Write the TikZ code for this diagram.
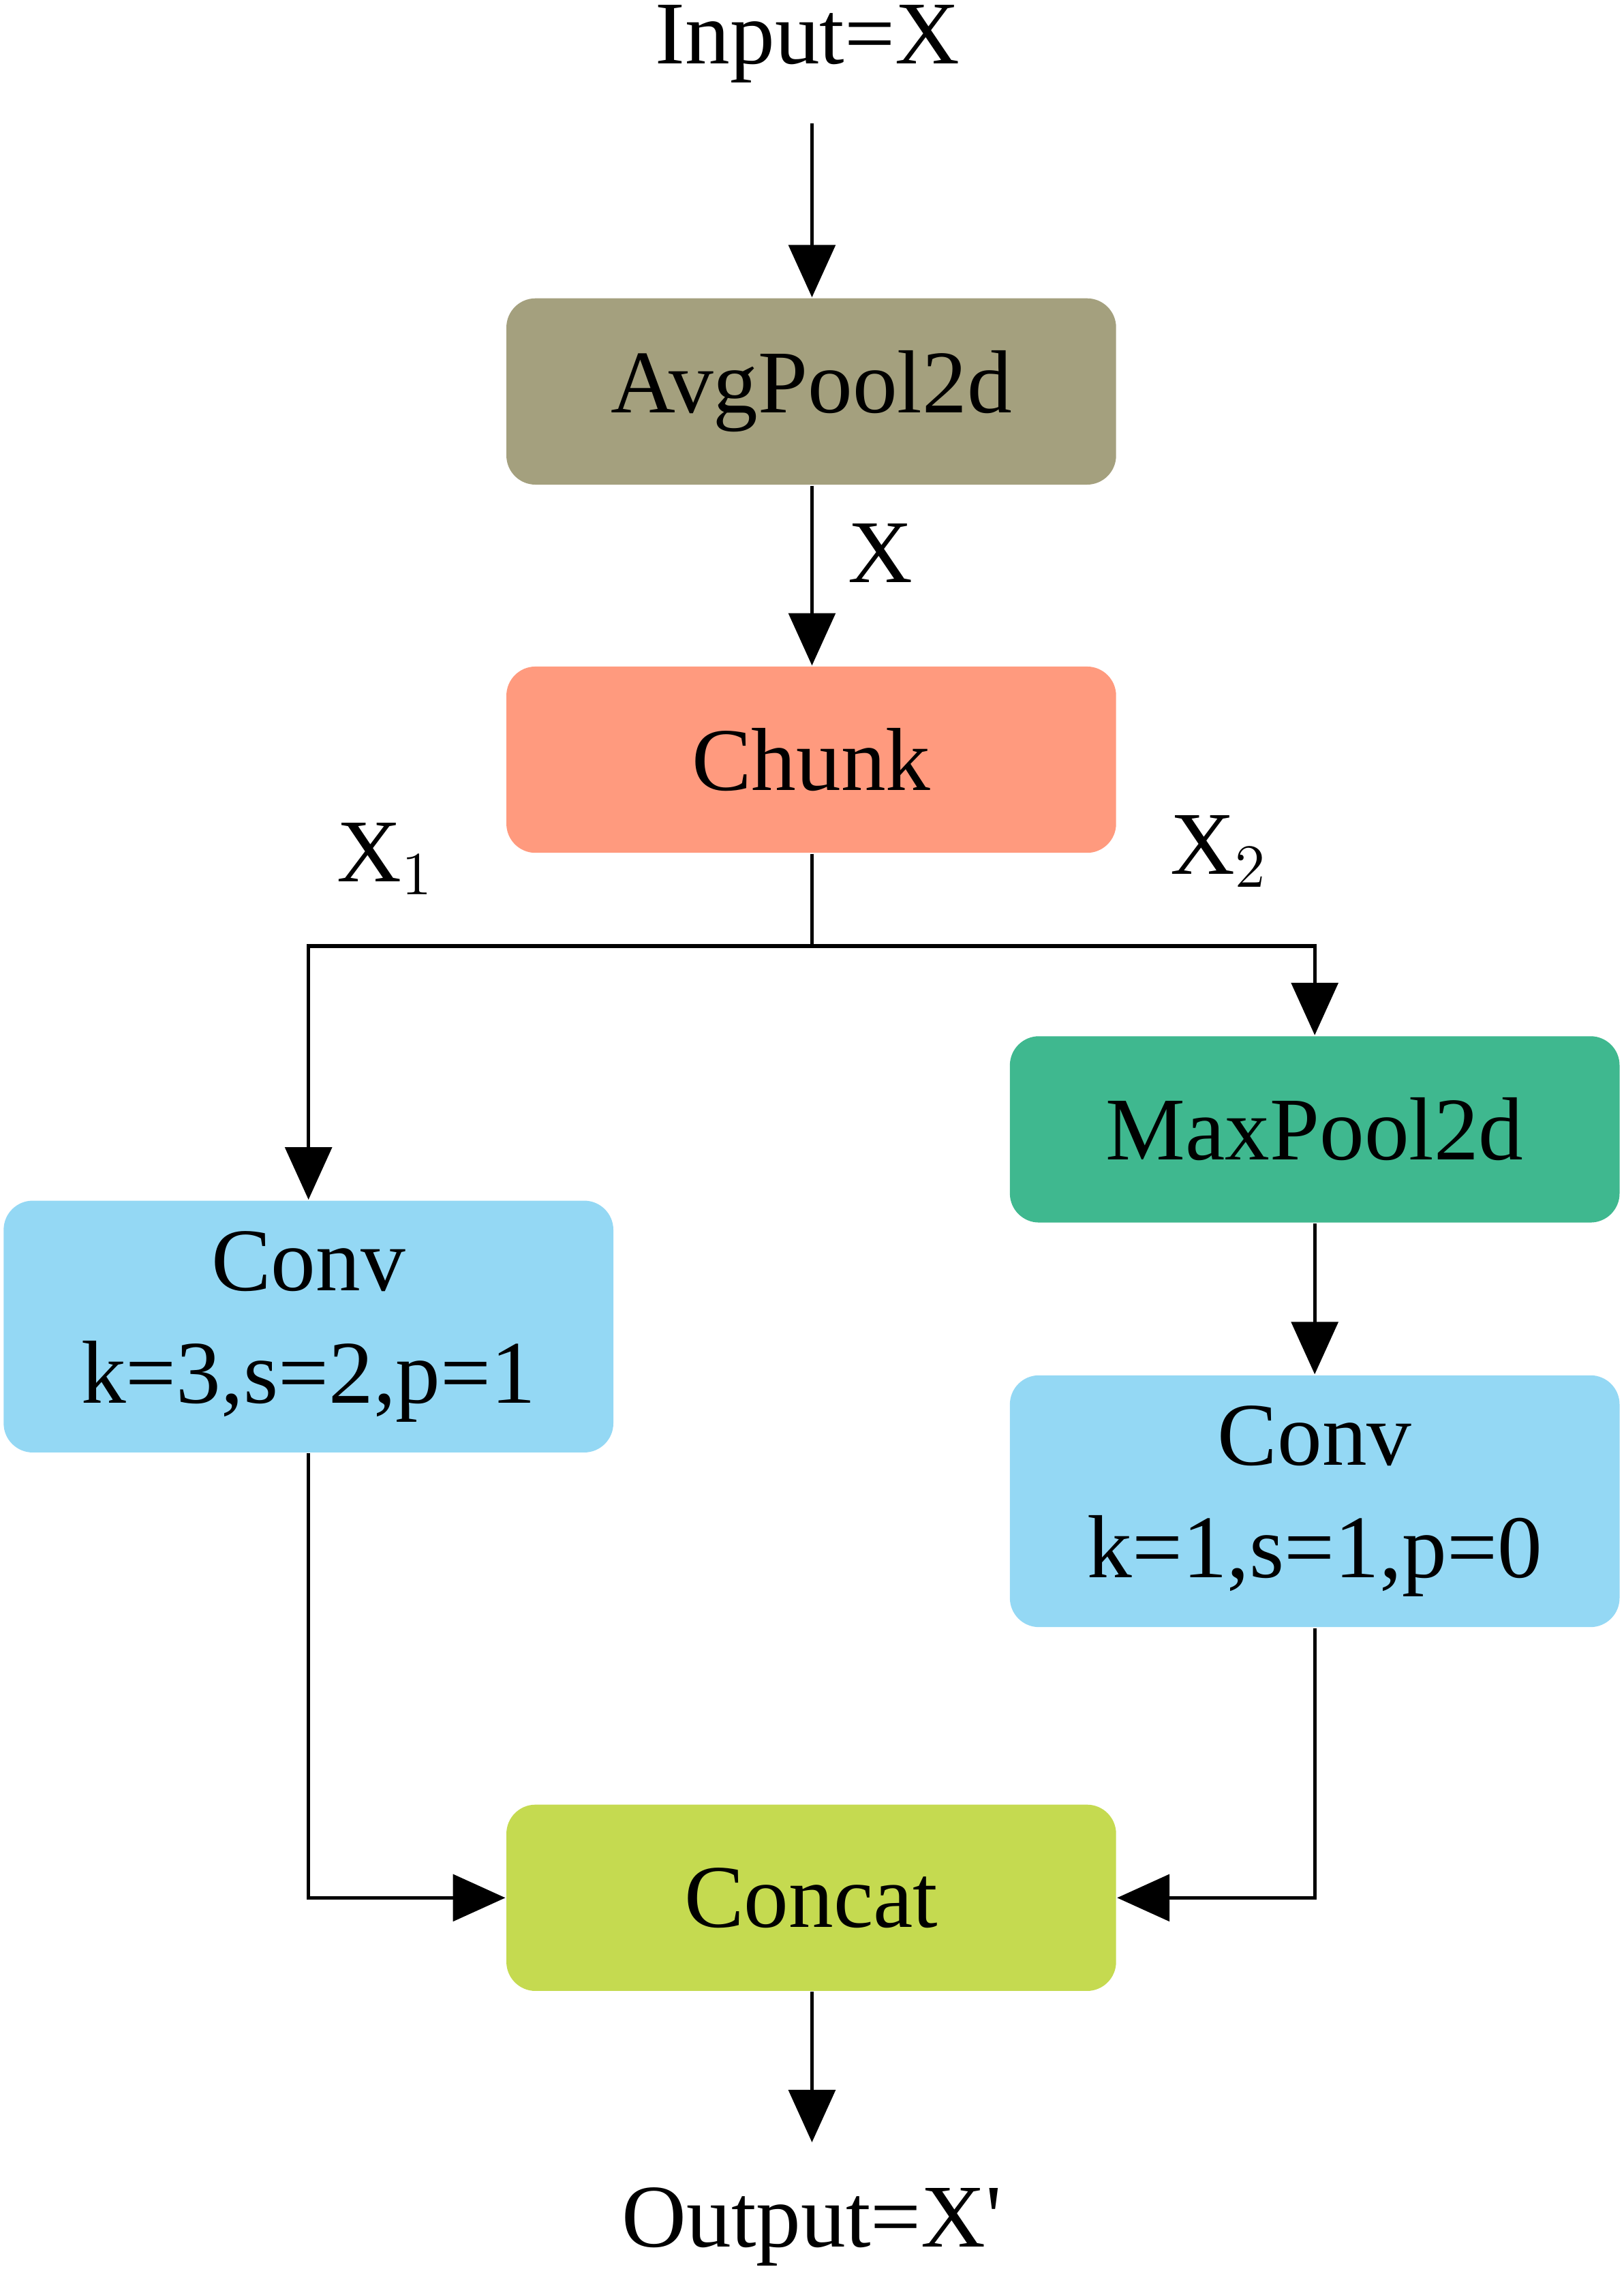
\documentclass[tikz,border=0pt]{standalone}
\usepackage{fontspec}
\setmainfont{Liberation Serif}
\usetikzlibrary{arrows.meta}
\definecolor{avg}{HTML}{A4A07E}
\definecolor{chunk}{HTML}{FF9A7E}
\definecolor{conv}{HTML}{94D8F4}
\definecolor{maxp}{HTML}{3FB88F}
\definecolor{cat}{HTML}{C5DA50}
\begin{document}
\begin{tikzpicture}[
  box/.style={draw=none,rounded corners=0.2cm,minimum width=4.19cm,minimum height=1.28cm,align=center,inner sep=0pt,font=\fontsize{17.5}{22}\selectfont},
  tall/.style={box,minimum height=1.73cm},
  lbl/.style={font=\fontsize{17.5}{22}\selectfont,inner sep=0pt},
  arr/.style={line width=0.7pt,-{Triangle[width=0.32cm,length=0.36cm]}},
  ln/.style={line width=0.7pt}]
\useasboundingbox (0,0) rectangle (11.16,-15.68);
\node[lbl] (in) at (5.55,-0.3) {Input=X};
\coordinate (inE) at (5.58,-0.85);
\node[box,fill=avg] (avg) at (5.575,-2.69) {AvgPool2d};
\node[box,fill=chunk] (ch) at (5.575,-5.22) {Chunk};
\node[tall,fill=conv] (c1) at (2.12,-9.115) {Conv\\k=3,s=2,p=1};
\node[box,fill=maxp] (mp) at (9.035,-7.76) {MaxPool2d};
\node[tall,fill=conv] (c2) at (9.035,-10.315) {Conv\\k=1,s=1,p=0};
\node[box,fill=cat] (cat) at (5.575,-13.04) {Concat};
\node[lbl] (out) at (5.58,-15.3) {Output=X\textquotesingle};
\coordinate (outS) at (5.58,-14.72);
\node[lbl] (lx) at (6.05,-3.8) {X};
\node[lbl] (x1) at (2.65,-5.9) {X$_1$};
\node[lbl] (x2) at (8.38,-5.85) {X$_2$};
\coordinate (split) at (5.58,-6.5);
\draw[arr] (inE) -- (inE |- avg.north);
\draw[arr] (avg.south -| inE) -- (ch.north -| inE);
\draw[ln] (ch.south -| split) -- (split);
\draw[arr] (split) -| (c1.north);
\draw[arr] (split) -| (mp.north);
\draw[arr] (mp.south) -- (c2.north);
\draw[arr] (c1.south) |- (cat.west);
\draw[arr] (c2.south) |- (cat.east);
\draw[arr] (cat.south -| outS) -- (outS);
\end{tikzpicture}
\end{document}
